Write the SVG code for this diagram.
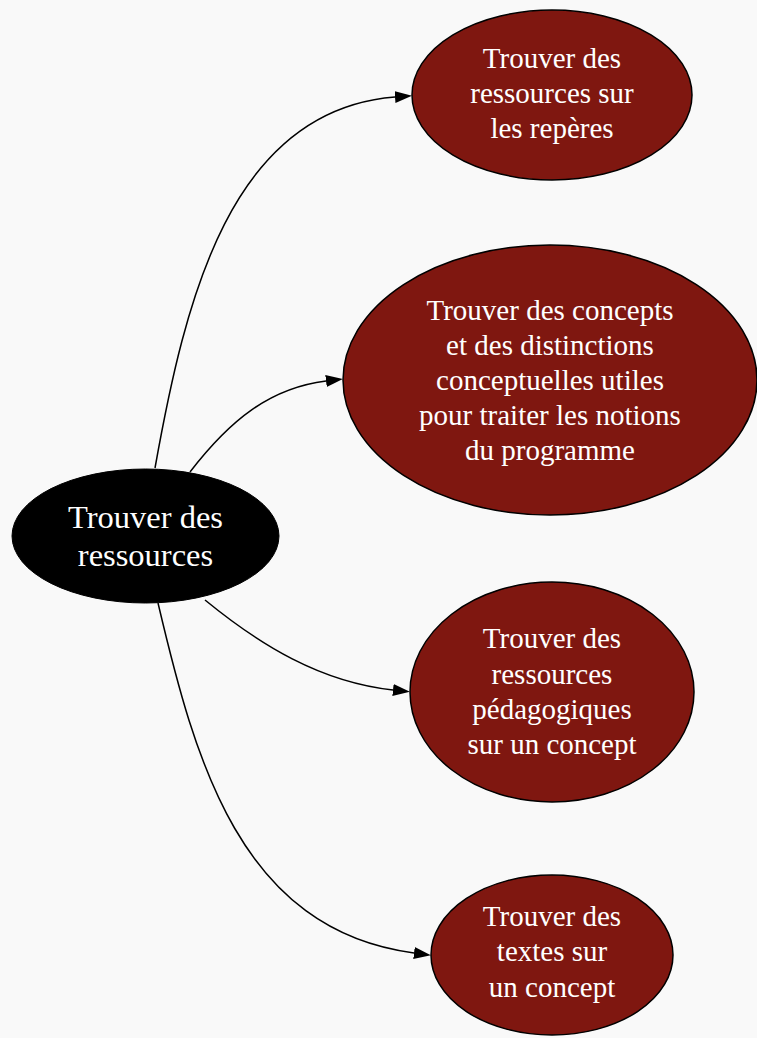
<svg xmlns="http://www.w3.org/2000/svg" width="757" height="1038" viewBox="0 0 757 1038">
<defs>
<style>
.n ellipse{fill:#7f1710;stroke:#000;stroke-width:1.5}
.root ellipse{fill:#000;stroke:#000}
text{font-family:"Liberation Serif","Times New Roman",serif;fill:#fff;text-anchor:middle;font-size:29px}
.root text{font-size:32.5px}
.e path{fill:none;stroke:#000;stroke-width:1.5}
</style>
<marker id="ah" markerWidth="17" markerHeight="12" refX="0" refY="6" orient="auto" markerUnits="userSpaceOnUse">
<path d="M0,0 L17,6 L0,12 Z" fill="#000"/>
</marker>
</defs>
<rect width="757" height="1038" fill="#f9f9f9"/>
<g id="edges" class="e">
<path d="M155,468 C185,300 230,110 395,97" marker-end="url(#ah)"/>
<path d="M190,472 C230,420 270,388 326,381" marker-end="url(#ah)"/>
<path d="M205,600 C260,645 320,682 393,690" marker-end="url(#ah)"/>
<path d="M158,603 C195,760 240,930 414,953" marker-end="url(#ah)"/>
</g>
<g id="root" class="root">
<ellipse cx="145.5" cy="536" rx="133.5" ry="67"/>
<text x="145.5" y="528">Trouver des</text>
<text x="145.5" y="566">ressources</text>
</g>
<g id="n1" class="n">
<ellipse cx="552" cy="95" rx="140" ry="85"/>
<text x="552" y="68">Trouver des</text>
<text x="552" y="103">ressources sur</text>
<text x="552" y="138">les repères</text>
</g>
<g id="n2" class="n">
<ellipse cx="550" cy="380" rx="207" ry="135"/>
<text x="550" y="320">Trouver des concepts</text>
<text x="550" y="355">et des distinctions</text>
<text x="550" y="390">conceptuelles utiles</text>
<text x="550" y="425">pour traiter les notions</text>
<text x="550" y="460">du programme</text>
</g>
<g id="n3" class="n">
<ellipse cx="552" cy="692" rx="142" ry="110"/>
<text x="552" y="648">Trouver des</text>
<text x="552" y="684">ressources</text>
<text x="552" y="719">pédagogiques</text>
<text x="552" y="754">sur un concept</text>
</g>
<g id="n4" class="n">
<ellipse cx="552" cy="955" rx="121" ry="80"/>
<text x="552" y="926">Trouver des</text>
<text x="552" y="961">textes sur</text>
<text x="552" y="997">un concept</text>
</g>
</svg>
